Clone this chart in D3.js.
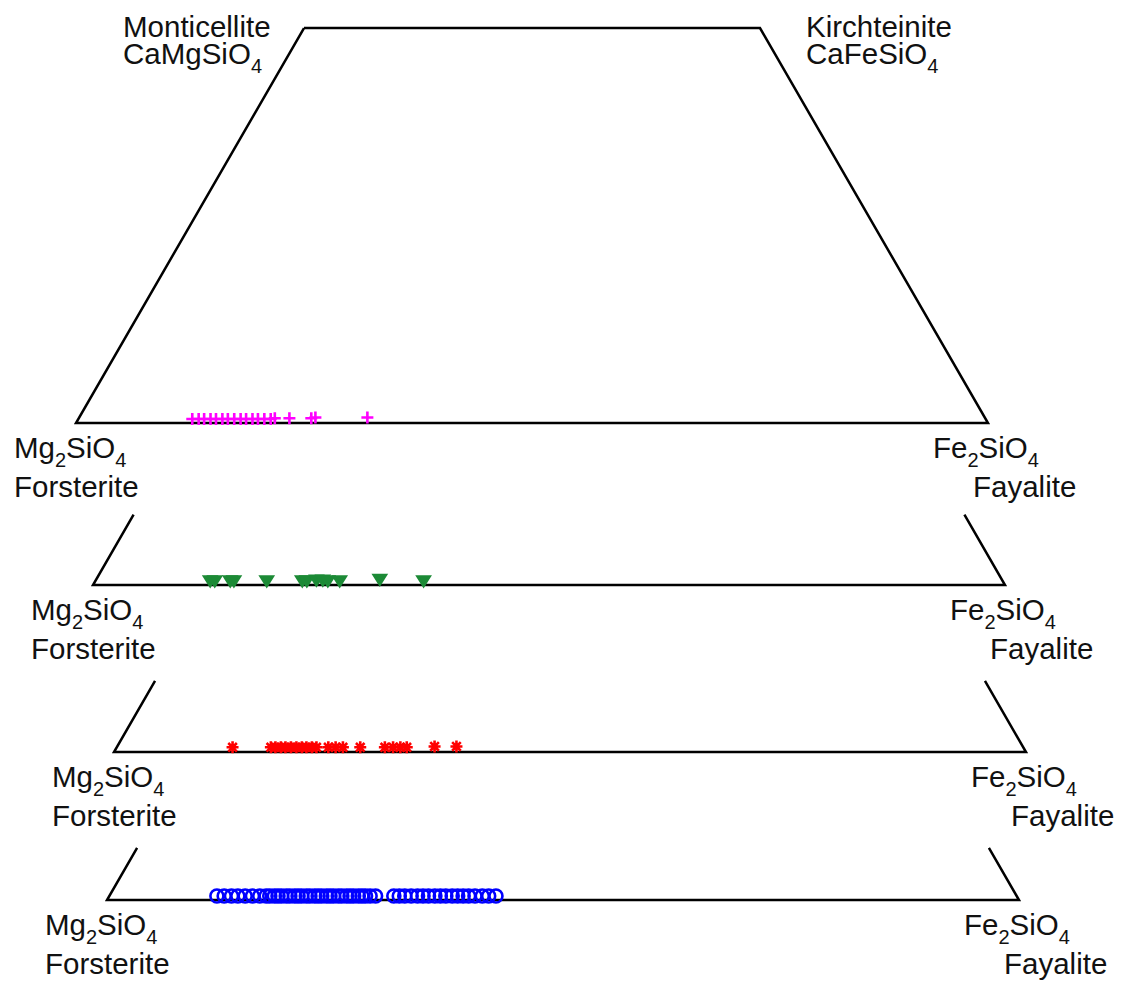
<!DOCTYPE html>
<html>
<head>
<meta charset="utf-8">
<script src="https://cdn.jsdelivr.net/npm/d3@7"></script>
<style>
  html, body { margin: 0; padding: 0; background: #fff; }
  svg text { font-family: "Liberation Sans", Arial, Helvetica, sans-serif; fill: #111; }
</style>
</head>
<body>
<svg id="chart" width="1123" height="986"></svg>
<script>
// ---- Data: Fayalite (Fe) mol % and Ca mol % for each population ----
const magentaFa = [12.5, 13.2, 13.8, 14.5, 15.1, 15.8, 16.4, 17.1, 17.8, 18.4, 19.1, 19.7, 20.4, 21.1, 21.5, 23.1, 25.5, 25.9, 31.6];
const magentaCa = [0.5, 0.5, 0.5, 0.5, 0.5, 0.5, 0.5, 0.5, 0.5, 0.5, 0.5, 0.5, 0.5, 0.5, 0.6, 0.6, 0.6, 0.7, 0.7];

const greenFa = [12.6, 13.1, 14.8, 15.2, 18.8, 22.7, 23.2, 24.2, 24.9, 25.5, 26.8, 31.1, 36.0];
const greenCa = [0.5, 0.5, 0.5, 0.5, 0.5, 0.5, 0.5, 0.6, 0.6, 0.5, 0.5, 0.7, 0.5];

const redFa = [12.7, 16.9, 17.4, 18.0, 18.5, 19.1, 19.7, 20.3, 20.8, 21.4, 21.9, 23.2, 24.0, 24.8, 26.7, 29.4, 30.3, 31.1, 31.8, 34.8, 37.2];
const redCa = [0.6, 0.6, 0.6, 0.6, 0.6, 0.6, 0.6, 0.6, 0.6, 0.6, 0.6, 0.6, 0.6, 0.6, 0.6, 0.6, 0.6, 0.6, 0.6, 0.7, 0.7];

const blueFa = [11.8, 12.6, 13.4, 14.1, 14.9, 15.7, 16.5, 17.2, 17.6, 18.1, 18.5, 18.9, 19.4, 19.8, 20.3, 20.7, 21.1, 21.6, 22.0, 22.5, 22.9, 23.3, 23.8, 24.2, 24.6, 25.1, 25.5, 26.0, 26.4, 26.8, 27.3, 27.7, 28.1, 28.6, 29.2, 31.2, 31.8, 32.4, 33.1, 33.8, 34.4, 35.0, 35.7, 36.3, 36.9, 37.6, 38.2, 38.8, 39.4, 40.1, 40.9, 41.6, 42.4];
const blueCa = [0.5, 0.5, 0.5, 0.5, 0.5, 0.5, 0.5, 0.5, 0.5, 0.5, 0.5, 0.5, 0.5, 0.5, 0.5, 0.5, 0.5, 0.5, 0.5, 0.5, 0.5, 0.5, 0.5, 0.5, 0.5, 0.5, 0.5, 0.5, 0.5, 0.5, 0.5, 0.5, 0.5, 0.5, 0.5, 0.5, 0.5, 0.5, 0.5, 0.5, 0.5, 0.5, 0.5, 0.5, 0.5, 0.5, 0.5, 0.5, 0.5, 0.5, 0.5, 0.5, 0.5];

// Endmember labels
const leftFormula = ["Mg", "2", "SiO", "4"];
const leftName = "Forsterite";
const rightFormula = ["Fe", "2", "SiO", "4"];
const rightName = "Fayalite";
const topLeftLabel = ["Monticellite", "CaMgSiO", "4"];
const topRightLabel = ["Kirchteinite", "CaFeSiO", "4"];

// ---- Layout (pixel placement of each panel) ----
const baseWidth = 912;
const FS = 29.5, SUB = 20;
const panels = [
  { left: 76,  base: 423, caTop: 50,  full: true,  fa: magentaFa, ca: magentaCa, marker: "plus",     color: "#ff00ff" },
  { left: 93,  base: 585, caTop: 8.9, full: false, fa: greenFa,   ca: greenCa,   marker: "triangle", color: "#1c8a36" },
  { left: 114, base: 752, caTop: 9.0, full: false, fa: redFa,     ca: redCa,     marker: "asterisk", color: "#ff0000" },
  { left: 107, base: 900, caTop: 6.6, full: false, fa: blueFa,    ca: blueCa,    marker: "circle",   color: "#0000ff" }
];

const svg = d3.select("#chart");
svg.append("rect").attr("width", 1123).attr("height", 986).attr("fill", "#fff");

const markerPaths = {
  plus: "M-6,0H6M0,-6V6",
  asterisk: "M-6,0H6M0,-6V6M-4.3,-4.3L4.3,4.3M-4.3,4.3L4.3,-4.3",
  triangle: "M-6,-4.5L6,-4.5L0,5Z"
};

function formula(g, parts, x, y) {
  const t = g.append("text").attr("x", x).attr("y", y).attr("font-size", FS);
  t.append("tspan").text(parts[0]);
  t.append("tspan").attr("font-size", SUB).attr("dy", 9).text(parts[1]);
  t.append("tspan").attr("dy", -9).text(parts[2]);
  t.append("tspan").attr("font-size", SUB).attr("dy", 9).text(parts[3]);
}

panels.forEach(p => {
  const H = baseWidth * Math.sqrt(3) / 2;
  // ternary: Mg left, Fe right, Ca apex (percent)
  const xs = d3.scaleLinear().domain([0, 100]).range([p.left, p.left + baseWidth]);
  const ys = d3.scaleLinear().domain([0, 100]).range([p.base, p.base - H]);
  const px = (fe, ca) => xs(fe + ca / 2);
  const py = (fe, ca) => ys(ca);

  const g = svg.append("g");
  const line = d3.line();
  const pts = [
    [px(0, p.caTop), py(0, p.caTop)],
    [px(0, 0), py(0, 0)],
    [px(100, 0), py(100, 0)],
    [px(100 - p.caTop, p.caTop), py(100 - p.caTop, p.caTop)]
  ];
  if (p.full) pts.push(pts[0]);
  g.append("path").attr("d", line(pts)).attr("fill", "none")
    .attr("stroke", "#000").attr("stroke-width", 2.5).attr("stroke-linejoin", "miter");

  // points
  const data = p.fa.map((f, i) => ({ fe: f, ca: p.ca[i] }));
  const mg = g.append("g");
  if (p.marker === "circle") {
    mg.selectAll("circle").data(data).join("circle")
      .attr("cx", d => px(d.fe, d.ca)).attr("cy", d => py(d.fe, d.ca)).attr("r", 6.5)
      .attr("fill", "none").attr("stroke", p.color).attr("stroke-width", 2.6);
  } else {
    mg.selectAll("path").data(data).join("path")
      .attr("transform", d => `translate(${px(d.fe, d.ca)},${py(d.fe, d.ca)})`)
      .attr("d", markerPaths[p.marker])
      .attr("fill", p.marker === "triangle" ? p.color : "none")
      .attr("stroke", p.color).attr("stroke-width", 2.6);
  }

  // bottom labels
  const lx = px(0, 0) - 62, rx = px(100, 0) - 55;
  formula(g, leftFormula, lx, p.base + 35);
  g.append("text").attr("x", lx).attr("y", p.base + 74).attr("font-size", FS).text(leftName);
  formula(g, rightFormula, rx, p.base + 35);
  g.append("text").attr("x", rx + 40).attr("y", p.base + 74).attr("font-size", FS).text(rightName);

  if (p.full) {
    const tlx = px(0, p.caTop), trx = px(100 - p.caTop, p.caTop);
    const ty = py(0, p.caTop);
    [[topLeftLabel, tlx - 181], [topRightLabel, trx + 46]].forEach(([lab, x]) => {
      // two-line label as a single text element
      const t = g.append("text").attr("x", x).attr("y", ty + 9).attr("font-size", FS);
      t.append("tspan").attr("x", x).text(lab[0]);
      t.append("tspan").attr("x", x).attr("dy", 27).text(lab[1]);
      t.append("tspan").attr("font-size", SUB).attr("dy", 9).text(lab[2]);
    });
  }
});
</script>
</body>
</html>
